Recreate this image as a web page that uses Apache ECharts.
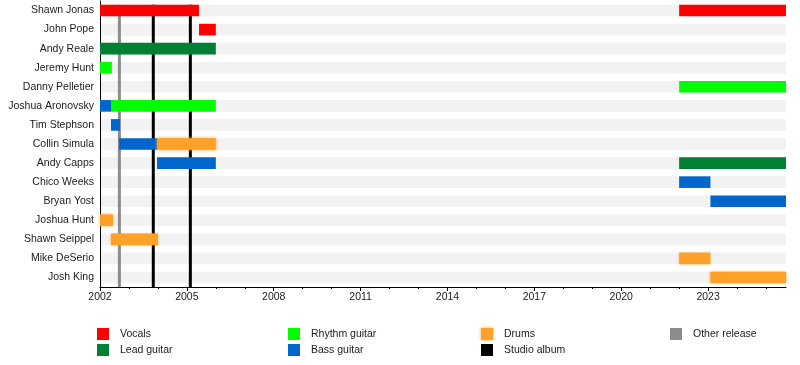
<!DOCTYPE html>
<html>
<head>
<meta charset="utf-8">
<script src="https://cdn.jsdelivr.net/npm/echarts@6/dist/echarts.min.js"></script>
<style>html,body{margin:0;padding:0;background:#fff}#c{width:800px;height:365px}</style>
</head>
<body>
<div id="c"></div>
<script>
// ---- data ----
const END = 2025.69;
const members = ['Shawn Jonas','John Pope','Andy Reale','Jeremy Hunt','Danny Pelletier','Joshua Aronovsky','Tim Stephson','Collin Simula','Andy Capps','Chico Weeks','Bryan Yost','Joshua Hunt','Shawn Seippel','Mike DeSerio','Josh King'];
const roles = ['Vocals','Lead guitar','Rhythm guitar','Bass guitar','Drums'];
const roleColors = ['#ff0000','#008033','#00ff00','#0066cc','#ffa028'];
// [member index, start, end, role index]
const periods = [
  [0, 2002.0, 2005.42, 0],
  [0, 2022.0, END, 0],
  [1, 2005.42, 2006.0, 0],
  [2, 2002.0, 2006.0, 1],
  [3, 2002.0, 2002.41, 2],
  [4, 2022.0, END, 2],
  [5, 2002.0, 2002.38, 3],
  [5, 2002.38, 2006.0, 2],
  [6, 2002.38, 2002.69, 3],
  [7, 2002.66, 2003.97, 3],
  [7, 2003.97, 2006.0, 4],
  [8, 2003.97, 2006.0, 3],
  [8, 2022.0, END, 1],
  [9, 2022.0, 2023.08, 3],
  [10, 2023.08, END, 3],
  [11, 2002.0, 2002.45, 4],
  [12, 2002.38, 2004.0, 4],
  [13, 2022.0, 2023.08, 4],
  [14, 2023.08, END, 4]
];
const studioAlbums = [2003.84, 2005.12];
const otherReleases = [2002.67];
const majorTicks = [2002, 2005, 2008, 2011, 2014, 2017, 2020, 2023];
const minorTicks = [2002,2003,2004,2005,2006,2007,2008,2009,2010,2011,2012,2013,2014,2015,2016,2017,2018,2019,2020,2021,2022,2023,2024,2025];

// ---- chart ----
const FONT = 'Liberation Sans, Arial, sans-serif';
const FS = 10.5;
const chart = echarts.init(document.getElementById('c'), null, {renderer: 'canvas'});

function barItem(params, api) {
  const row = api.value(0), s = api.value(1), e = api.value(2);
  const p0 = api.coord([s, row]), p1 = api.coord([e, row]);
  const h = api.size([0, 1])[1] * 0.61;
  const color = api.visual('color');
  const drums = params.seriesName === 'Drums';
  return {
    type: 'rect',
    shape: {x: p0[0], y: p0[1] - h / 2, width: p1[0] - p0[0], height: h},
    style: drums ? {fill: color, shadowBlur: 3, shadowColor: 'rgba(255,160,40,0.9)'} : {fill: color}
  };
}
function lineItem(params, api) {
  const x = api.value(0);
  const p = api.coord([x, 0]);
  const h = api.size([0, 1])[1] * 0.61;
  const bottom = params.coordSys.y + params.coordSys.height;
  const top = p[1] - h / 2;
  return {type: 'rect', shape: {x: p[0] - 1.5, y: top, width: 3, height: bottom - top}, style: {fill: api.visual('color')}};
}

const series = [];
series.push({
  type: 'custom', name: 'bg', silent: true, z: 1,
  renderItem: barItem,
  itemStyle: {color: '#f2f2f2'},
  encode: {x: [1, 2], y: 0},
  data: members.map((m, i) => [i, 2002, END])
});
series.push({
  type: 'custom', name: 'Other release', z: 2, renderItem: lineItem,
  itemStyle: {color: '#8c8c8c'}, encode: {x: 0, y: 1},
  data: otherReleases.map(v => [v, 0])
});
series.push({
  type: 'custom', name: 'Studio album', z: 2, renderItem: lineItem,
  itemStyle: {color: '#000000'}, encode: {x: 0, y: 1},
  data: studioAlbums.map(v => [v, 0])
});
roles.forEach((r, ri) => {
  series.push({
    type: 'custom', name: r, z: 3, renderItem: barItem,
    itemStyle: {color: roleColors[ri]},
    encode: {x: [1, 2], y: 0},
    data: periods.filter(p => p[3] === ri).map(p => [p[0], p[1], p[2]])
  });
});

function legend(left, names) {
  return {
    left: left, top: 328, orient: 'vertical', padding: 0,
    itemWidth: 12, itemHeight: 12, itemGap: 4, icon: 'rect',
    selectedMode: false,
    textStyle: {fontFamily: FONT, fontSize: FS, color: '#1a1a1a', padding: [0, 0, 0, 6]},
    data: names.map(n => n === 'Drums'
      ? {name: n, itemStyle: {shadowBlur: 3, shadowColor: 'rgba(255,160,40,0.9)'}}
      : {name: n})
  };
}

chart.setOption({
  animation: false,
  textStyle: {fontFamily: FONT},
  grid: {left: 100, right: 14, top: 1, height: 286},
  legend: [
    legend(97, ['Vocals', 'Lead guitar']),
    legend(288, ['Rhythm guitar', 'Bass guitar']),
    legend(481, ['Drums', 'Studio album']),
    legend(670, ['Other release'])
  ],
  xAxis: [{
    type: 'value', min: 2002, max: END, z: 2,
    axisLine: {show: true, lineStyle: {color: '#000', width: 1}},
    axisTick: {show: true, length: 4, customValues: majorTicks, lineStyle: {color: '#000'}},
    axisLabel: {customValues: majorTicks, fontFamily: FONT, fontSize: FS, color: '#1a1a1a', margin: 5, formatter: v => String(v)},
    splitLine: {show: false}
  }, {
    type: 'value', min: 2002, max: END, position: 'bottom', z: 2,
    axisLine: {show: false},
    axisTick: {show: true, length: 2, customValues: minorTicks, lineStyle: {color: '#000'}},
    axisLabel: {show: false},
    splitLine: {show: false}
  }],
  yAxis: {
    type: 'category', inverse: true, data: members, z: 2,
    axisLine: {show: true, lineStyle: {color: '#000', width: 1}},
    axisTick: {show: false},
    axisLabel: {fontFamily: FONT, fontSize: FS, color: '#1a1a1a', margin: 6},
    splitLine: {show: false}
  },
  series: series
});
</script>
</body>
</html>
